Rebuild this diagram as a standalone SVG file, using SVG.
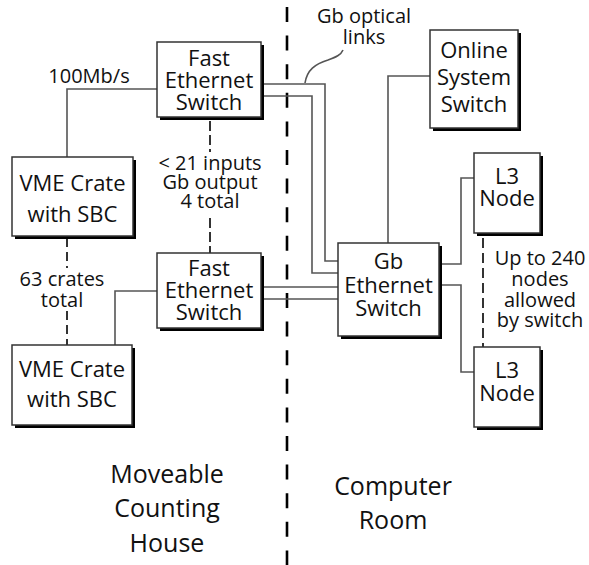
<svg xmlns="http://www.w3.org/2000/svg" width="589" height="565" viewBox="0 0 589 565">
<style>
.box{fill:#fff;stroke:#333;stroke-width:1.5}
.sh{fill:#000}
text{font-family:"Open Sans","Noto Sans","Liberation Sans",sans-serif;font-size:22px;fill:#111;text-anchor:middle}
.lbl{font-size:20px}
.big{font-size:25px}
.con{fill:none;stroke:#555;stroke-width:1.6}
.dsh{fill:none;stroke:#333;stroke-width:2}
.div{fill:none;stroke:#000;stroke-width:2.6;stroke-dasharray:15 13.6}
</style>
<rect width="589" height="565" fill="#fff"/>
<g id="connectors">
<path class="div" d="M287,7 V565"/>
<path class="con" d="M67,157 V89 H157"/>
<path class="con" d="M115,345 V291 H157"/>
<path class="con" d="M261,84 H325 V261 H338"/>
<path class="con" d="M261,96 H312 V273 H338"/>
<path class="con" d="M261,287 H338"/>
<path class="con" d="M261,299 H338"/>
<path class="con" d="M430,76 H388 V243"/>
<path class="con" d="M474,178 H461 V264 H439"/>
<path class="con" d="M439,285 H461 V372 H474"/>
<path class="con" d="M305,83 C307,70 315,64 328,60 C336,57 341,55 343,50"/>
<path class="dsh" stroke-dasharray="10 4" d="M210,121 V152 M210,218 V253"/>
<path class="dsh" stroke-dasharray="9 5" d="M67,238 V268 M67,311 V345"/>
<path class="dsh" stroke-dasharray="10 5" d="M483,238 V347"/>
</g>
<g id="fes1">
<rect class="sh" x="160" y="45" width="104" height="75"/>
<rect class="box" x="157" y="42" width="104" height="75"/>
<text x="209" y="66">Fast</text>
<text x="209" y="88">Ethernet</text>
<text x="209" y="110">Switch</text>
</g>
<g id="fes2">
<rect class="sh" x="160" y="256" width="104" height="75"/>
<rect class="box" x="157" y="253" width="104" height="75"/>
<text x="209" y="276">Fast</text>
<text x="209" y="298">Ethernet</text>
<text x="209" y="320">Switch</text>
</g>
<g id="vme1">
<rect class="sh" x="15" y="160" width="121" height="79"/>
<rect class="box" x="12" y="157" width="121" height="79"/>
<text x="72.5" y="191">VME Crate</text>
<text x="72.5" y="222">with SBC</text>
</g>
<g id="vme2">
<rect class="sh" x="15" y="348" width="120" height="80"/>
<rect class="box" x="12" y="345" width="120" height="80"/>
<text x="72" y="377">VME Crate</text>
<text x="72" y="407">with SBC</text>
</g>
<g id="gbswitch">
<rect class="sh" x="341" y="246" width="101" height="93"/>
<rect class="box" x="338" y="243" width="101" height="93"/>
<text x="388.5" y="269">Gb</text>
<text x="388.5" y="293">Ethernet</text>
<text x="388.5" y="316">Switch</text>
</g>
<g id="online">
<rect class="sh" x="433" y="33" width="88" height="98"/>
<rect class="box" x="430" y="30" width="88" height="98"/>
<text x="474" y="58">Online</text>
<text x="474" y="85">System</text>
<text x="474" y="112">Switch</text>
</g>
<g id="l3a">
<rect class="sh" x="477" y="156" width="66" height="80"/>
<rect class="box" x="474" y="153" width="66" height="80"/>
<text x="507" y="184">L3</text>
<text x="507" y="206">Node</text>
</g>
<g id="l3b">
<rect class="sh" x="477" y="350" width="66" height="80"/>
<rect class="box" x="474" y="347" width="66" height="80"/>
<text x="507" y="378">L3</text>
<text x="507" y="401">Node</text>
</g>
<g id="labels">
<text class="lbl" x="89" y="83">100Mb/s</text>
<text class="lbl" x="210" y="170">&lt; 21 inputs</text>
<text class="lbl" x="210" y="189">Gb output</text>
<text class="lbl" x="210" y="208">4 total</text>
<text class="lbl" x="62" y="286">63 crates</text>
<text class="lbl" x="62" y="307">total</text>
<text class="lbl" x="364" y="23">Gb optical</text>
<text class="lbl" x="364" y="44">links</text>
<text class="lbl" x="540" y="265">Up to 240</text>
<text class="lbl" x="540" y="286">nodes</text>
<text class="lbl" x="540" y="307">allowed</text>
<text class="lbl" x="540" y="327">by switch</text>
<text class="big" x="167" y="483">Moveable</text>
<text class="big" x="167" y="517">Counting</text>
<text class="big" x="167" y="552">House</text>
<text class="big" x="393" y="495">Computer</text>
<text class="big" x="393" y="529">Room</text>
</g>
</svg>
